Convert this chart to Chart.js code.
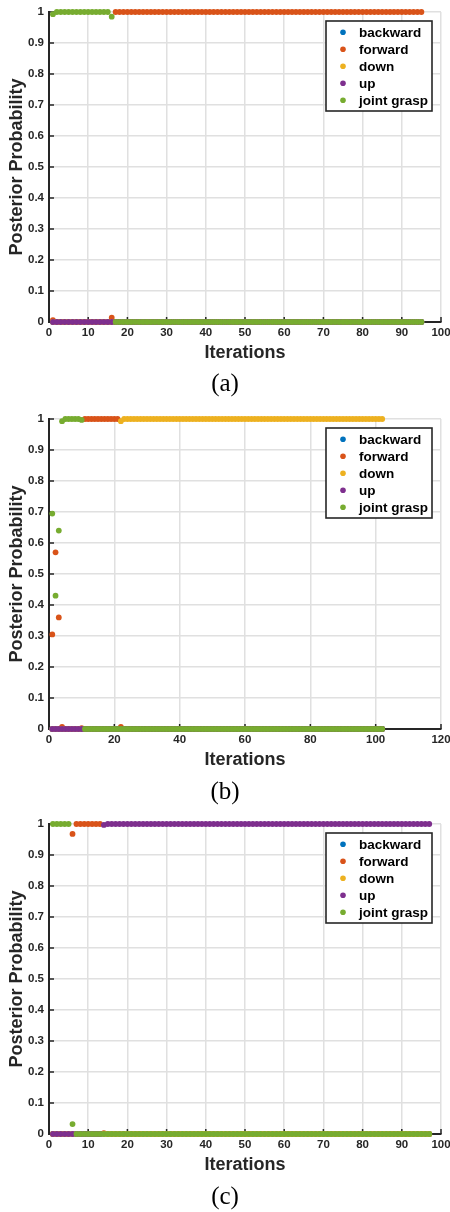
<!DOCTYPE html>
<html><head><meta charset="utf-8">
<script src="https://cdn.jsdelivr.net/npm/chart.js@4/dist/chart.umd.min.js"></script>
<style>
html,body{margin:0;padding:0;background:#fff;}
#wrap{position:relative;width:450px;height:1212px;background:#fff;overflow:hidden;}
canvas{position:absolute;left:0;}
.cap{position:absolute;left:0;width:450px;text-align:center;font-family:'Liberation Serif','DejaVu Serif',serif;font-size:25px;line-height:30px;color:#000;}
</style></head><body>
<div id="wrap">
<canvas id="ca" width="450" height="370" style="top:0px"></canvas>
<div class="cap" style="top:368px">(a)</div>
<canvas id="cb" width="450" height="370" style="top:407px"></canvas>
<div class="cap" style="top:776px">(b)</div>
<canvas id="cc" width="450" height="370" style="top:812px"></canvas>
<div class="cap" style="top:1181px">(c)</div>
</div>
<script>
// ---- legend / series ----
const seriesNames = ['backward', 'forward', 'down', 'up', 'joint grasp'];
const seriesColors = ['#0072BD', '#D95319', '#EDB120', '#7E2F8E', '#77AC30'];

// ---- tick labels ----
const yTickLabels = [0, 0.1, 0.2, 0.3, 0.4, 0.5, 0.6, 0.7, 0.8, 0.9, 1];
const xTicksA = [0, 10, 20, 30, 40, 50, 60, 70, 80, 90, 100];
const xTicksB = [0, 20, 40, 60, 80, 100, 120];
const xTicksC = [0, 10, 20, 30, 40, 50, 60, 70, 80, 90, 100];

// ---- panel (a): posterior per iteration (iterations 1..95) ----
const aBackward = [
0,0,0,0,0,0,0,0,0,0, 0,0,0,0,0,0,0,0,0,0, 0,0,0,0,0,0,0,0,0,0, 0,0,0,0,0,0,0,0,0,0,
0,0,0,0,0,0,0,0,0,0, 0,0,0,0,0,0,0,0,0,0, 0,0,0,0,0,0,0,0,0,0, 0,0,0,0,0,0,0,0,0,0,
0,0,0,0,0,0,0,0,0,0, 0,0,0,0,0];
const aForward = [
0.006,0,0,0,0,0,0,0,0,0, 0,0,0,0,0,0.014,1,1,1,1, 1,1,1,1,1,1,1,1,1,1, 1,1,1,1,1,1,1,1,1,1,
1,1,1,1,1,1,1,1,1,1, 1,1,1,1,1,1,1,1,1,1, 1,1,1,1,1,1,1,1,1,1, 1,1,1,1,1,1,1,1,1,1,
1,1,1,1,1,1,1,1,1,1, 1,1,1,1,1];
const aDown = [
0,0,0,0,0,0,0,0,0,0, 0,0,0,0,0,0,0,0,0,0, 0,0,0,0,0,0,0,0,0,0, 0,0,0,0,0,0,0,0,0,0,
0,0,0,0,0,0,0,0,0,0, 0,0,0,0,0,0,0,0,0,0, 0,0,0,0,0,0,0,0,0,0, 0,0,0,0,0,0,0,0,0,0,
0,0,0,0,0,0,0,0,0,0, 0,0,0,0,0];
const aUp = [
0,0,0,0,0,0,0,0,0,0, 0,0,0,0,0,0,0,0,0,0, 0,0,0,0,0,0,0,0,0,0, 0,0,0,0,0,0,0,0,0,0,
0,0,0,0,0,0,0,0,0,0, 0,0,0,0,0,0,0,0,0,0, 0,0,0,0,0,0,0,0,0,0, 0,0,0,0,0,0,0,0,0,0,
0,0,0,0,0,0,0,0,0,0, 0,0,0,0,0];
const aJoint = [
0.993,1,1,1,1,1,1,1,1,1, 1,1,1,1,1,0.985,0,0,0,0, 0,0,0,0,0,0,0,0,0,0, 0,0,0,0,0,0,0,0,0,0,
0,0,0,0,0,0,0,0,0,0, 0,0,0,0,0,0,0,0,0,0, 0,0,0,0,0,0,0,0,0,0, 0,0,0,0,0,0,0,0,0,0,
0,0,0,0,0,0,0,0,0,0, 0,0,0,0,0];

// ---- panel (b): iterations 1..102 ----
const bBackward = [
0,0,0,0,0,0,0,0,0,0, 0,0,0,0,0,0,0,0,0,0, 0,0,0,0,0,0,0,0,0,0, 0,0,0,0,0,0,0,0,0,0,
0,0,0,0,0,0,0,0,0,0, 0,0,0,0,0,0,0,0,0,0, 0,0,0,0,0,0,0,0,0,0, 0,0,0,0,0,0,0,0,0,0,
0,0,0,0,0,0,0,0,0,0, 0,0,0,0,0,0,0,0,0,0, 0,0];
const bForward = [
0.305,0.57,0.36,0.007,0,0,0,0,0,0.003, 1,1,1,1,1,1,1,1,1,1, 1,0.007,0,0,0,0,0,0,0,0, 0,0,0,0,0,0,0,0,0,0,
0,0,0,0,0,0,0,0,0,0, 0,0,0,0,0,0,0,0,0,0, 0,0,0,0,0,0,0,0,0,0, 0,0,0,0,0,0,0,0,0,0,
0,0,0,0,0,0,0,0,0,0, 0,0,0,0,0,0,0,0,0,0, 0,0];
const bDown = [
0,0,0,0,0,0,0,0,0,0, 0,0,0,0,0,0,0,0,0,0, 0,0.993,1,1,1,1,1,1,1,1, 1,1,1,1,1,1,1,1,1,1,
1,1,1,1,1,1,1,1,1,1, 1,1,1,1,1,1,1,1,1,1, 1,1,1,1,1,1,1,1,1,1, 1,1,1,1,1,1,1,1,1,1,
1,1,1,1,1,1,1,1,1,1, 1,1,1,1,1,1,1,1,1,1, 1,1];
const bUp = [
0,0,0,0,0,0,0,0,0,0, 0,0,0,0,0,0,0,0,0,0, 0,0,0,0,0,0,0,0,0,0, 0,0,0,0,0,0,0,0,0,0,
0,0,0,0,0,0,0,0,0,0, 0,0,0,0,0,0,0,0,0,0, 0,0,0,0,0,0,0,0,0,0, 0,0,0,0,0,0,0,0,0,0,
0,0,0,0,0,0,0,0,0,0, 0,0,0,0,0,0,0,0,0,0, 0,0];
const bJoint = [
0.695,0.43,0.64,0.993,1,1,1,1,1,0.997, 0,0,0,0,0,0,0,0,0,0, 0,0,0,0,0,0,0,0,0,0, 0,0,0,0,0,0,0,0,0,0,
0,0,0,0,0,0,0,0,0,0, 0,0,0,0,0,0,0,0,0,0, 0,0,0,0,0,0,0,0,0,0, 0,0,0,0,0,0,0,0,0,0,
0,0,0,0,0,0,0,0,0,0, 0,0,0,0,0,0,0,0,0,0, 0,0];

// ---- panel (c): iterations 1..97 ----
const cBackward = [
0,0,0,0,0,0,0,0,0,0, 0,0,0,0,0,0,0,0,0,0, 0,0,0,0,0,0,0,0,0,0, 0,0,0,0,0,0,0,0,0,0,
0,0,0,0,0,0,0,0,0,0, 0,0,0,0,0,0,0,0,0,0, 0,0,0,0,0,0,0,0,0,0, 0,0,0,0,0,0,0,0,0,0,
0,0,0,0,0,0,0,0,0,0, 0,0,0,0,0,0,0];
const cForward = [
0,0,0,0,0,0.968,1,1,1,1, 1,1,1,0.003,0,0,0,0,0,0, 0,0,0,0,0,0,0,0,0,0, 0,0,0,0,0,0,0,0,0,0,
0,0,0,0,0,0,0,0,0,0, 0,0,0,0,0,0,0,0,0,0, 0,0,0,0,0,0,0,0,0,0, 0,0,0,0,0,0,0,0,0,0,
0,0,0,0,0,0,0,0,0,0, 0,0,0,0,0,0,0];
const cDown = [
0,0,0,0,0,0,0,0,0,0, 0,0,0,0,0,0,0,0,0,0, 0,0,0,0,0,0,0,0,0,0, 0,0,0,0,0,0,0,0,0,0,
0,0,0,0,0,0,0,0,0,0, 0,0,0,0,0,0,0,0,0,0, 0,0,0,0,0,0,0,0,0,0, 0,0,0,0,0,0,0,0,0,0,
0,0,0,0,0,0,0,0,0,0, 0,0,0,0,0,0,0];
const cUp = [
0,0,0,0,0,0,0,0,0,0, 0,0,0,0.997,1,1,1,1,1,1, 1,1,1,1,1,1,1,1,1,1, 1,1,1,1,1,1,1,1,1,1,
1,1,1,1,1,1,1,1,1,1, 1,1,1,1,1,1,1,1,1,1, 1,1,1,1,1,1,1,1,1,1, 1,1,1,1,1,1,1,1,1,1,
1,1,1,1,1,1,1,1,1,1, 1,1,1,1,1,1,1];
const cJoint = [
1,1,1,1,1,0.032,0,0,0,0, 0,0,0,0,0,0,0,0,0,0, 0,0,0,0,0,0,0,0,0,0, 0,0,0,0,0,0,0,0,0,0,
0,0,0,0,0,0,0,0,0,0, 0,0,0,0,0,0,0,0,0,0, 0,0,0,0,0,0,0,0,0,0, 0,0,0,0,0,0,0,0,0,0,
0,0,0,0,0,0,0,0,0,0, 0,0,0,0,0,0,0];

// ---- styling ----
const FF = "'Liberation Sans', Arial, Helvetica, sans-serif";
const AX = '#262626';
const GRID = '#e0e0e0';

const inwardTicks = {
  id: 'inwardTicks',
  beforeDatasetsDraw(chart) {
    const {ctx, chartArea: a, scales: {x, y}} = chart;
    ctx.save();
    ctx.strokeStyle = AX; ctx.lineWidth = 1.5;
    ctx.beginPath();
    x.ticks.forEach(t => { const px = x.getPixelForValue(t.value); ctx.moveTo(px, a.bottom); ctx.lineTo(px, a.bottom - 5); });
    y.ticks.forEach(t => { const py = y.getPixelForValue(t.value); ctx.moveTo(a.left, py); ctx.lineTo(a.left + 5, py); });
    ctx.stroke();
    ctx.restore();
  }
};

const legendBox = {
  id: 'legendBox',
  afterDraw(chart) {
    const {ctx, chartArea: a} = chart;
    const w = 106, h = 90;
    const x0 = a.right - 9 - w, y0 = a.top + 9;
    ctx.save();
    ctx.fillStyle = '#fff'; ctx.fillRect(x0, y0, w, h);
    ctx.strokeStyle = AX; ctx.lineWidth = 1.6; ctx.strokeRect(x0, y0, w, h);
    ctx.font = "bold 13.5px " + FF;
    ctx.textBaseline = 'middle'; ctx.textAlign = 'left';
    chart.data.datasets.forEach((ds, i) => {
      const cy = y0 + 11.3 + 17 * i;
      ctx.fillStyle = ds.backgroundColor;
      ctx.beginPath(); ctx.arc(x0 + 17, cy, 2.8, 0, Math.PI * 2); ctx.fill();
      ctx.fillStyle = '#000';
      ctx.fillText(ds.label, x0 + 33, cy + 0.5);
    });
    ctx.restore();
  }
};

function makeChart(id, series, xTicks) {
  const datasets = series.map((vals, i) => ({
    label: seriesNames[i],
    data: vals.map((v, k) => ({x: k + 1, y: v})),
    backgroundColor: seriesColors[i],
    borderColor: seriesColors[i],
    pointRadius: 2.9, pointHoverRadius: 2.9, pointBorderWidth: 0, borderWidth: 0,
    showLine: false, clip: false,
    order: series.length - 1 - i
  }));
  return new Chart(document.getElementById(id), {
    type: 'scatter',
    data: {datasets},
    options: {
      responsive: false, animation: false, devicePixelRatio: 1, events: [],
      layout: {padding: {left: 0, right: 9, top: 12, bottom: 0}},
      plugins: {legend: {display: false}, tooltip: {enabled: false}},
      scales: {
        x: {
          type: 'linear', min: xTicks[0], max: xTicks[xTicks.length - 1],
          afterBuildTicks: s => { s.ticks = xTicks.map(v => ({value: v})); },
          afterFit: s => { s.height = 48; s.paddingLeft = 0; s.paddingRight = 0; },
          grid: {color: GRID, lineWidth: 1.5, drawTicks: false},
          border: {display: true, color: AX, width: 2},
          ticks: {padding: 4, color: AX, font: {family: FF, size: 11.5, weight: 'bold'}, maxRotation: 0, autoSkip: false, callback: v => String(v)},
          title: {display: true, text: 'Iterations', color: AX, font: {family: FF, size: 18, weight: 'bold'}, padding: {top: 0, bottom: 6.5}}
        },
        y: {
          type: 'linear', min: 0, max: 1,
          afterBuildTicks: s => { s.ticks = yTickLabels.map(v => ({value: v})); },
          afterFit: s => { s.width = 49; s.paddingTop = 0; s.paddingBottom = 0; },
          grid: {color: GRID, lineWidth: 1.5, drawTicks: false},
          border: {display: true, color: AX, width: 2},
          ticks: {padding: 5, color: AX, font: {family: FF, size: 11.5, weight: 'bold'}, autoSkip: false, callback: v => String(v)},
          title: {display: true, text: 'Posterior Probability', color: AX, font: {family: FF, size: 18, weight: 'bold'}, padding: {top: 6.2, bottom: 0}}
        }
      }
    },
    plugins: [inwardTicks, legendBox]
  });
}

makeChart('ca', [aBackward, aForward, aDown, aUp, aJoint], xTicksA);
makeChart('cb', [bBackward, bForward, bDown, bUp, bJoint], xTicksB);
makeChart('cc', [cBackward, cForward, cDown, cUp, cJoint], xTicksC);
</script>
</body></html>
